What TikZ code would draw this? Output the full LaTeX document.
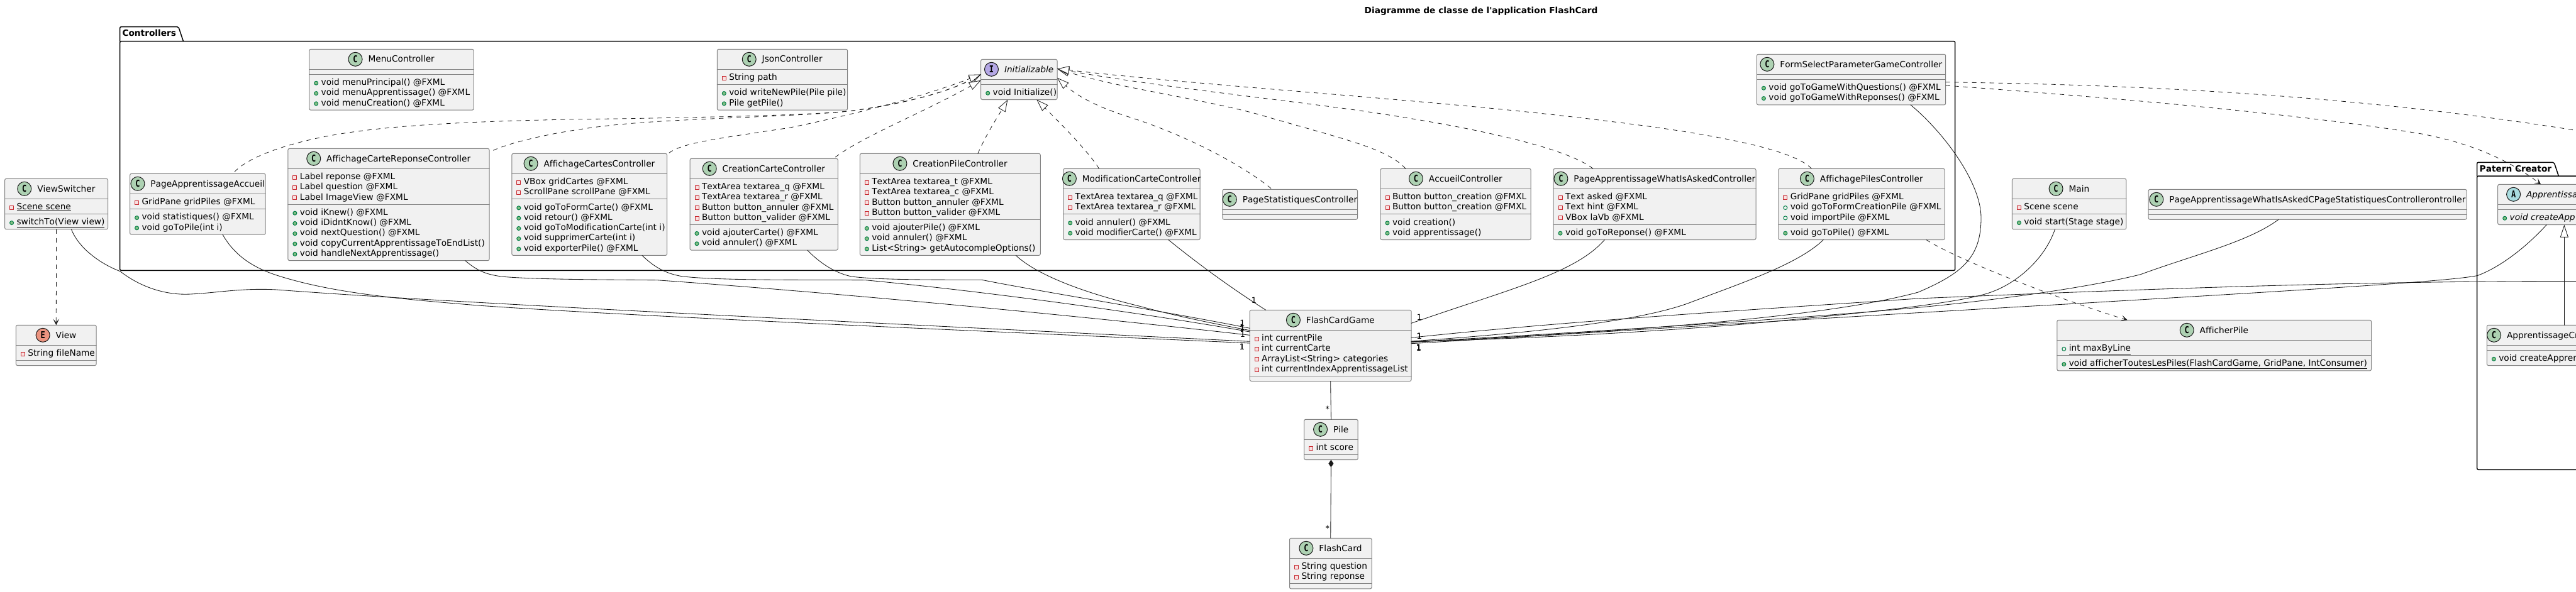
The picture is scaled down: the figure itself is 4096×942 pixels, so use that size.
\documentclass[tikz,border=0pt]{standalone}
\usepackage{fontspec}
\newfontfamily\umlfont{DejaVu Sans}[Ligatures=NoCommon,Kerning=Off]
\newfontfamily\spotfont{DejaVu Sans Mono}[FakeStretch=0.8]
\usetikzlibrary{arrows.meta,positioning,calc}
\definecolor{boxfill}{HTML}{F1F1F1}
\definecolor{boxline}{HTML}{828282}
\definecolor{linkline}{HTML}{181818}
\definecolor{classspot}{HTML}{ADD1B2}
\definecolor{abstractspot}{HTML}{A9DCDF}
\definecolor{interfacespot}{HTML}{B4A7E5}
\definecolor{enumspot}{HTML}{EB937F}
\definecolor{publine}{HTML}{038048}
\definecolor{pubfill}{HTML}{84BE84}
\definecolor{privline}{HTML}{C82930}
\definecolor{privfill}{HTML}{F8E0E0}
\tikzset{
  umltext/.style={font=\umlfont\fontsize{13.7}{16}\selectfont,text=black,inner sep=0pt,outer sep=0pt},
  classbody/.style={draw=boxline,fill=boxfill,line width=1pt,rounded corners=2.5pt,inner sep=0pt,outer sep=0pt,anchor=north west},
  classtitle/.style={umltext,text height=11pt,text depth=1.6pt},
  member/.style={umltext,anchor=base west},
  divider/.style={draw=boxline,line width=1pt},
  spot/.style={shape=circle,draw=linkline,line width=1pt,minimum size=22pt,inner sep=0pt,outer sep=0pt,font=\spotfont\bfseries\fontsize{15}{15}\selectfont},
  spotC/.style={spot,fill=classspot},
  spotA/.style={spot,fill=abstractspot},
  spotI/.style={spot,fill=interfacespot},
  spotE/.style={spot,fill=enumspot},
  iconbase/.style={inner sep=0pt,outer sep=0pt,line width=1pt},
  iconpub/.style={iconbase,shape=circle,minimum size=6pt,draw=publine,fill=pubfill},
  iconpubf/.style={iconbase,shape=circle,minimum size=6pt,draw=publine,fill=none},
  iconpriv/.style={iconbase,shape=rectangle,minimum size=6pt,draw=privline,fill=privfill},
  packageline/.style={draw=black,line width=1.5pt,rounded corners=2pt},
  packagetitle/.style={umltext,anchor=base west,font=\umlfont\bfseries\fontsize{13.7}{16}\selectfont},
  assoc/.style={draw=linkline,line width=0.85pt},
  dashlink/.style={draw=linkline,line width=0.8pt,line cap=butt,dash pattern=on 7pt off 7pt},
  depend/.style={dashlink,-{Stealth[length=10pt,width=10pt,inset=5.5pt]}},
  realize/.style={dashlink,-{Triangle[length=19pt,width=13pt,fill=white]}},
  multiplicity/.style={umltext,font=\umlfont\fontsize{12.7}{15}\selectfont,anchor=base},
}
\newcount\umlrows
\newcommand{\umlrow}[5]{% id, left, row y, kind, text
  \node[style=icon#4] (#1i) at (#2+11,#3+1.8) {};
  \node[member] (#1) at (#2+19,#3+5) {#5};
}
\newcommand{\umlclass}[8][C]{% [spot] id, left, top, right, title, fields, methods
  \global\umlrows=0
  \if\relax\detokenize{#7}\relax\else\foreach \kind/\txt in {#7}{\global\advance\umlrows by 1}\fi
  \pgfmathsetmacro{\fieldh}{8+16.3*\the\umlrows}
  \global\umlrows=0
  \if\relax\detokenize{#8}\relax\else\foreach \kind/\txt in {#8}{\global\advance\umlrows by 1}\fi
  \pgfmathsetmacro{\methodh}{8+16.3*\the\umlrows}
  \pgfmathsetmacro{\boxw}{#5-#3}
  \pgfmathsetmacro{\boxh}{32+\fieldh+\methodh}
  \pgfmathsetmacro{\sepa}{#4+32}
  \pgfmathsetmacro{\sepb}{#4+32+\fieldh}
  \node[classbody,minimum width=\boxw pt,minimum height=\boxh pt] (#2) at (#3,#4) {};
  \node[classtitle] (#2t) at ({(#3+#5)/2+15.75},#4+16) {#6};
  \node[style=spot#1,left=9.5pt of #2t] (#2s) {#1};
  \draw[divider] (#3,\sepa) -- (#5,\sepa);
  \draw[divider] (#3,\sepb) -- (#5,\sepb);
  \if\relax\detokenize{#7}\relax\else
  \foreach \kind/\txt [count=\n] in {#7}{
    \pgfmathsetmacro{\rowy}{\sepa+4+16.3*(\n-0.5)}
    \umlrow{#2f\n}{#3}{\rowy}{\kind}{\txt}
  }\fi
  \if\relax\detokenize{#8}\relax\else
  \foreach \kind/\txt [count=\n] in {#8}{
    \pgfmathsetmacro{\rowy}{\sepb+4+16.3*(\n-0.5)}
    \umlrow{#2m\n}{#3}{\rowy}{\kind}{\txt}
  }\fi
}
\begin{document}
\begin{tikzpicture}[x=1pt,y=-1pt,line cap=round,line join=round]
\useasboundingbox (0,0) rectangle (4096,942);

\node[umltext,font=\umlfont\bfseries\fontsize{13.7}{16}\selectfont] (diagramtitle) at (2355,18) {Diagramme de classe de l'application FlashCard};

\draw[packageline] (190.7,65.7) -- (190.7,42.7) -- (283.8,42.7) -- (291.5,65.7);
\draw[packageline] (190.7,65.7) rectangle (3108.7,430.3);
\node[packagetitle] (controllerstitle) at (194.5,58) {Controllers};
\draw[packageline] (3938.7,280) -- (3938.7,258.3) -- (4061,258.3) -- (4068.3,280);
\draw[packageline] (3938.7,280) rectangle (4200,747.3);
\node[packagetitle] (patertitle) at (3942.7,273) {Patern Creator};

\umlclass{viewswitcher}{7.6}{284.3}{171.6}{ViewSwitcher}{priv/\underline{Scene scene}}{pub/\underline{switchTo(View view)}}
\umlclass[E]{view}{25.4}{517.3}{153.2}{View}{priv/String fileName}{}
\umlclass{pageaccueil}{206.6}{276.3}{422.2}{PageApprentissageAccueil}{priv/GridPane gridPiles @FXML}{pub/void statistiques() @FXML,pub/void goToPile(int i)}
\umlclass{menu}{491.7}{78.3}{753.2}{MenuController}{}{pub/void menuPrincipal() @FXML,pub/void menuApprentissage() @FXML,pub/void menuCreation() @FXML}
\umlclass{cartereponse}{457.9}{236.3}{778}{AffichageCarteReponseController}{priv/Label reponse @FXML,priv/Label question @FXML,priv/Label ImageView @FXML}{pub/void iKnew() @FXML,pub/void iDidntKnow() @FXML,pub/void nextQuestion() @FXML,pub/void copyCurrentApprentissageToEndList(),pub/void handleNextApprentissage()}
\umlclass{cartes}{813.8}{244.3}{1060.6}{AffichageCartesController}{priv/VBox gridCartes @FXML,priv/ScrollPane scrollPane @FXML}{pub/void goToFormCarte() @FXML,pub/void retour() @FXML,pub/void goToModificationCarte(int i),pub/void supprimerCarte(int i),pub/void exporterPile() @FXML}
\umlclass{json}{1140.3}{78.3}{1347.6}{JsonController}{priv/String path}{pub/void writeNewPile(Pile pile),pub/Pile getPile()}
\umlclass[I]{init}{1559.7}{94.3}{1681}{\textit{Initializable}}{}{pub/void Initialize()}
\umlclass{creationcarte}{1097}{252.3}{1332.3}{CreationCarteController}{priv/TextArea textarea\_q @FXML,priv/TextArea textarea\_r @FXML,priv/Button button\_annuler @FXML,priv/Button button\_valider @FXML}{pub/void ajouterCarte() @FXML,pub/void annuler() @FXML}
\umlclass{creationpile}{1367.3}{244.3}{1654.3}{CreationPileController}{priv/TextArea textarea\_t @FXML,priv/TextArea textarea\_c @FXML,priv/Button button\_annuler @FXML,priv/Button button\_valider @FXML}{pub/void ajouterPile() @FXML,pub/void annuler() @FXML,pub/List<String> getAutocompleOptions()}
\umlclass{modification}{1690.7}{268.3}{1908.2}{ModificationCarteController}{priv/TextArea textarea\_q @FXML,priv/TextArea textarea\_r @FXML}{pub/void annuler() @FXML,pub/void modifierCarte() @FXML}
\umlclass{statistiques}{1943.9}{301.3}{2158.5}{PageStatistiquesController}{}{}
\umlclass{accueil}{2195}{268.3}{2434.2}{AccueilController}{priv/Button button\_creation @FMXL,priv/Button button\_creation @FMXL}{pub/void creation(),pub/void apprentissage()}
\umlclass{whatasked}{2470}{268.3}{2792}{PageApprentissageWhatIsAskedController}{priv/Text asked @FXML,priv/Text hint @FXML,priv/VBox laVb @FXML}{pub/void goToReponse() @FXML}
\umlclass{pilesview}{2827.8}{268.3}{3092.2}{AffichagePilesController}{priv/GridPane gridPiles @FXML,pubf/void goToFormCreationPile @FXML,pubf/void importPile @FXML}{pub/void goToPile() @FXML}
\umlclass{formselect}{2793.4}{86.3}{3093.7}{FormSelectParameterGameController}{}{pub/void goToGameWithQuestions() @FXML,pub/void goToGameWithReponses() @FXML}
\umlclass{main}{3199.4}{284.3}{3380.9}{Main}{priv/Scene scene}{pub/void start(Stage stage)}
\umlclass{whatstats}{3416.2}{301.3}{3922}{PageApprentissageWhatIsAskedCPageStatistiquesControllerontroller}{}{}
\umlclass[A]{abstractcreator}{3971.7}{293.3}{4112.3}{\textit{Apprentissa}}{}{pub/\textit{void createApp}}
\umlclass{creator}{3954.3}{517.3}{4100}{ApprentissageCr\hspace{5pt}}{}{pub/void createAppren}
\umlclass{game}{1987.2}{493.3}{2244.1}{FlashCardGame}{priv/int currentPile,priv/int currentCarte,priv/ArrayList<String> categories,priv/int currentIndexApprentissageList}{}
\umlclass{pile}{2073.7}{667.3}{2159.2}{Pile}{priv/int score}{}
\umlclass{flashcard}{2050.5}{856.3}{2181}{FlashCard}{priv/String question,priv/String reponse}{}
\umlclass{afficherpile}{3270.8}{509.3}{3770.5}{AfficherPile}{pubf/\underline{int maxByLine}}{pub/\underline{void afficherToutesLesPiles(FlashCardGame, GridPane, IntConsumer)}}

\coordinate (gameoff) at (4110,447.5);
\coordinate (dashoff) at (4130,213);

\draw[assoc] ([shift={(23.9,0)}]viewswitcher.south) .. controls (125,395) and (160,420) .. (191,431.7) .. controls (225,458) and (265,470) .. (303,468) .. controls (345,466) and (385,458) .. (440,461) .. controls (700,481) and (1350,512) .. ([shift={(0,-6.6)}]game.west);
\draw[assoc] ([shift={(39.6,0)}]pageaccueil.south) .. controls (372,405) and (400,425) .. (440,438) .. controls (530,467) and (640,476) .. (760,486) .. controls (1000,503) and (1500,524) .. ([shift={(0,-3.9)}]game.west);
\draw[assoc] ([shift={(121.85,0)}]cartereponse.south) .. controls (762,434) and (778,437) .. (797,440) .. controls (850,445) and (970,445) .. (1044.6,445.7) .. controls (1250,460) and (1650,495) .. ([shift={(0,-16.6)}]game.west);
\draw[assoc] ([shift={(83.8,0)}]cartes.south) .. controls (1045,430) and (1065,436) .. (1083,439.5) .. controls (1140,447) and (1300,445) .. (1376,445.7) .. controls (1550,462) and (1800,495) .. ([shift={(0,-21.9)}]game.west);
\draw[assoc] ([shift={(69.15,0)}]creationcarte.south) .. controls (1310,425) and (1335,436) .. (1354,440) .. controls (1400,446) and (1500,445) .. (1561,445.3) .. controls (1660,465) and (1850,495) .. ([shift={(0,-27.6)}]game.west);
\draw[assoc] ([shift={(104.6,0)}]creationpile.south) .. controls (1640,430) and (1700,460) .. (1810,486.7) .. controls (1870,503) and (1930,515) .. ([shift={(0,-24.2)}]game.west);
\draw[assoc] ([shift={(58.35,0)}]modification.south) .. controls (1905,420) and (1960,460) .. ([shift={(-103,0)}]game.north);
\draw[assoc] ([shift={(-79.6,0)}]whatasked.south) .. controls (2505,435) and (2400,460) .. ([shift={(0,-35.6)}]game.east);
\draw[assoc] ([shift={(-60.7,0)}]pilesview.south) .. controls (2860,420) and (2770,450) .. (2691,480) .. controls (2610,512) and (2430,530) .. ([shift={(0,-6.9)}]game.east);
\draw[assoc] ([shift={(94.45,0)}]formselect.south) .. controls (3090,210) and (3150,290) .. (3150,346.7) .. controls (3150,410) and (3120,435) .. (3050,465) .. controls (2950,492) and (2750,520) .. ([shift={(0,-5.4)}]game.east);
\draw[assoc] ([shift={(-22.65,0)}]main.south) .. controls (3250,415) and (3205,450) .. (3170,463.3) .. controls (3130,480) and (3000,495) .. (2771,516) .. controls (2600,530) and (2400,540) .. ([shift={(0,-6.4)}]game.east);
\draw[assoc] ([shift={(-46.1,0)}]whatstats.south) .. controls (3575,385) and (3490,405) .. (3403.6,436.7) .. controls (3330,455) and (3200,475) .. (3050,489.3) .. controls (2850,508) and (2500,530) .. ([shift={(0,-5.9)}]game.east);
\draw[assoc] ([shift={(77.6,0)}]abstractcreator.south west) .. controls (4015,395) and (3975,425) .. (3940,438.3) .. controls (3900,448) and (3600,465) .. (3297,483.3) .. controls (3000,500) and (2600,525) .. ([shift={(0,-3.2)}]game.east);
\draw[assoc] (gameoff) .. controls (3800,447) and (3500,456) .. (3050,475) .. controls (2800,492) and (2500,510) .. ([shift={(0,-12.6)}]game.east);
\draw[assoc] (game.south) -- (pile.north);
\draw[assoc,{Diamond[length=12pt,width=8pt]}-] (pile.south) -- (flashcard.north);
\draw[assoc,-{Triangle[length=20pt,width=13pt,fill=white]}] ([shift={(123,0)}]creator.north west) -- ([shift={(105.6,0)}]abstractcreator.south west);

\draw[depend] (viewswitcher.south) -- (view.north);
\draw[depend] ([shift={(102.8,0)}]pilesview.south) .. controls (3110,412) and (3270,475) .. ([shift={(-138,0)}]afficherpile.north);
\draw[depend] ([shift={(0,9.4)}]formselect.east) .. controls (3350,155) and (3650,180) .. (3850.5,213) .. controls (3930,228) and (3990,255) .. ([shift={(68.3,0)}]abstractcreator.north west);
\draw[dashlink] ([shift={(0,4.1)}]formselect.east) .. controls (3400,135) and (3750,150) .. (dashoff);

\draw[realize] ([shift={(58.6,-3)}]pageaccueil.north) .. controls (400,245) and (480,220) .. (574,208.3) .. controls (700,192) and (900,190) .. (1000,188.7) .. controls (1150,186) and (1290,183) .. (1351,176.7) .. controls (1420,168) and (1500,150) .. ([shift={(0,-8)}]init.west);
\draw[realize] ([shift={(166.45,3)}]cartereponse.north) .. controls (815,225) and (900,205) .. (1000,196.7) .. controls (1100,188) and (1280,185) .. (1351,176.7) .. controls (1420,168) and (1500,150) .. ([shift={(0,-8)}]init.west);
\draw[realize] ([shift={(126.6,-1)}]cartes.north) .. controls (1085,228) and (1130,222) .. (1255,203.3) .. controls (1330,188) and (1450,160) .. ([shift={(0,-8)}]init.west);
\draw[realize] ([shift={(113.75,-2.3)}]creationcarte.north) .. controls (1370,218) and (1470,178) .. ([shift={(0,1.3)}]init.west);
\draw[realize] ([shift={(44,0)}]creationpile.north) .. controls (1570,210) and (1590,180) .. ([shift={(-18,0)}]init.south);
\draw[realize] ([shift={(-52,0)}]modification.north) .. controls (1730,240) and (1680,190) .. ([shift={(28,0)}]init.south);
\draw[realize] ([shift={(-30,-1.3)}]statistiques.north) .. controls (1985,270) and (1900,220) .. (1797,186.7) .. controls (1750,172) and (1715,155) .. ([shift={(0,-2.7)}]init.east);
\draw[realize] ([shift={(-79.6,0)}]accueil.north) .. controls (2205,235) and (2130,220) .. (2000,181.7) .. controls (1900,155) and (1780,140) .. ([shift={(0,-17)}]init.east);
\draw[realize] ([shift={(-98,0)}]whatasked.north) .. controls (2490,235) and (2350,205) .. (2210.4,183.3) .. controls (2100,165) and (1850,140) .. ([shift={(0,-17)}]init.east);
\draw[realize] ([shift={(-79.6,0)}]pilesview.north) .. controls (2850,235) and (2700,210) .. (2561,193.3) .. controls (2300,160) and (1950,140) .. ([shift={(0,-17)}]init.east);

\foreach \x/\y [count=\i] in {1994/482,1975.3/518,1975.3/525,1975.3/527,1976/536.5,1975/556.5,1975/556.8,2257/509,2256.7/539,2256.7/539.3,2256.7/539.6,2256/557.5,2256/557.8,2256/558.1}{
  \node[multiplicity] (one\i) at (\x,\y) {1};
}
\node[multiplicity] (manypile) at (2110.8,655) {*};
\node[multiplicity] (manycard) at (2110.8,845) {*};
\end{tikzpicture}
\end{document}
